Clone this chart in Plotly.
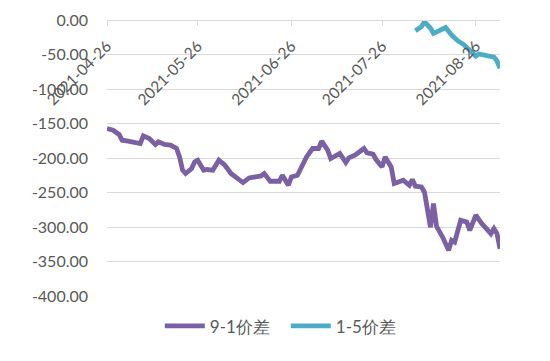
import plotly.graph_objects as go

# 9-1价差
dates_91 = ["2021-04-26","2021-04-28","2021-04-30","2021-05-01","2021-05-03","2021-05-07","2021-05-08",
            "2021-05-10","2021-05-12","2021-05-13","2021-05-15","2021-05-17","2021-05-19","2021-05-20",
            "2021-05-21","2021-05-22","2021-05-24","2021-05-25","2021-05-26","2021-05-28","2021-05-29",
            "2021-05-31","2021-06-02","2021-06-04","2021-06-06","2021-06-08","2021-06-10","2021-06-12",
            "2021-06-14","2021-06-16","2021-06-17","2021-06-19","2021-06-22","2021-06-23","2021-06-25",
            "2021-06-26","2021-06-28","2021-06-30","2021-07-01","2021-07-03","2021-07-05","2021-07-06",
            "2021-07-08","2021-07-09","2021-07-11","2021-07-12","2021-07-14","2021-07-15","2021-07-17",
            "2021-07-20","2021-07-21","2021-07-23","2021-07-24","2021-07-26","2021-07-27","2021-07-29",
            "2021-07-30","2021-08-02","2021-08-04","2021-08-05","2021-08-06","2021-08-08","2021-08-09",
            "2021-08-11","2021-08-12","2021-08-13","2021-08-15","2021-08-17","2021-08-18","2021-08-19",
            "2021-08-21","2021-08-23","2021-08-24","2021-08-26","2021-08-28","2021-08-30","2021-08-31",
            "2021-09-01","2021-09-02","2021-09-03"]
values_91 = [-157.2,-159.7,-165.9,-174.2,-175.6,-179.0,-167.9,
             -171.7,-180.4,-176.6,-180.4,-181.4,-186.2,-198.4,
             -217.7,-222.5,-215.2,-205.7,-203.2,-217.7,-216.7,
             -217.7,-203.2,-210.5,-222.5,-229.8,-235.6,-228.9,
             -227.4,-226.0,-222.5,-233.7,-233.7,-225.0,-239.5,
             -227.4,-225.0,-205.7,-198.4,-186.2,-186.2,-175.6,
             -188.7,-200.7,-195.9,-193.5,-206.5,-199.9,-195.9,
             -186.2,-192.6,-194.5,-202.2,-212.9,-198.4,-212.9,
             -237.0,-232.2,-239.5,-231.2,-240.9,-241.9,-249.2,
             -300.4,-266.0,-299.0,-314.5,-333.8,-319.3,-321.8,
             -290.3,-292.7,-304.8,-283.0,-295.1,-304.8,-309.6,
             -302.3,-309.6,-331.4]

# 1-5价差
dates_15 = ["2021-08-06","2021-08-08","2021-08-09","2021-08-11","2021-08-12","2021-08-14","2021-08-16",
            "2021-08-18","2021-08-20","2021-08-22","2021-08-23","2021-08-25","2021-08-26","2021-08-27",
            "2021-08-31","2021-09-01","2021-09-02","2021-09-03"]
values_15 = [-15.5,-9.7,-2.5,-12.0,-19.3,-14.5,-10.9,
             -21.8,-30.0,-35.6,-39.6,-46.0,-52.3,-49.3,
             -52.3,-53.7,-59.5,-70.1]

x_ticks = ["2021-04-26","2021-05-26","2021-06-26","2021-07-26","2021-08-26"]
y_ticks = [0,-50,-100,-150,-200,-250,-300,-350,-400]
y_tick_text = [f"{v:.2f}" for v in y_ticks]

FONT = "Lato, 'Noto Sans', sans-serif"
GREY = "#595959"
GRID = "#d9d9d9"

fig = go.Figure()
fig.add_trace(go.Scatter(x=dates_91, y=values_91, mode="lines", name="9-1价差",
                         line=dict(color="#7B61A3", width=4.8)))
fig.add_trace(go.Scatter(x=dates_15, y=values_15, mode="lines", name="1-5价差",
                         line=dict(color="#4BACC6", width=4.8)))

fig.update_layout(
    width=550, height=361,
    margin=dict(l=99, r=58, t=12, b=73, autoexpand=False),
    paper_bgcolor="white", plot_bgcolor="white",
    font=dict(family=FONT, color=GREY, size=16),
    showlegend=True,
    legend=dict(orientation="h", x=0.455, xanchor="center", y=-0.11, yanchor="middle",
                font=dict(size=17, color=GREY), itemwidth=40, tracegroupgap=0,
                entrywidth=71, entrywidthmode="pixels"),
    xaxis=dict(
        type="date", range=["2021-04-26", "2021-09-03"],
        anchor="free", position=1, side="bottom",
        tickvals=x_ticks, tickformat="%Y-%m-%d", tickangle=-45,
        ticks="outside", ticklen=5, tickcolor=GRID,
        ticklabelstandoff=5,
        showline=True, linecolor=GRID, linewidth=1,
        showgrid=False, zeroline=False, automargin=False,
        tickfont=dict(size=15.5, color=GREY, family=FONT),
    ),
    yaxis=dict(
        range=[-400, 0], tickvals=y_ticks, ticktext=y_tick_text,
        showgrid=True, gridcolor=GRID, gridwidth=1, zeroline=False,
        showline=False, ticks="", ticklabelstandoff=18, automargin=False,
        tickfont=dict(size=16, color=GREY, family=FONT),
    ),
)

fig.write_html("out.html")
